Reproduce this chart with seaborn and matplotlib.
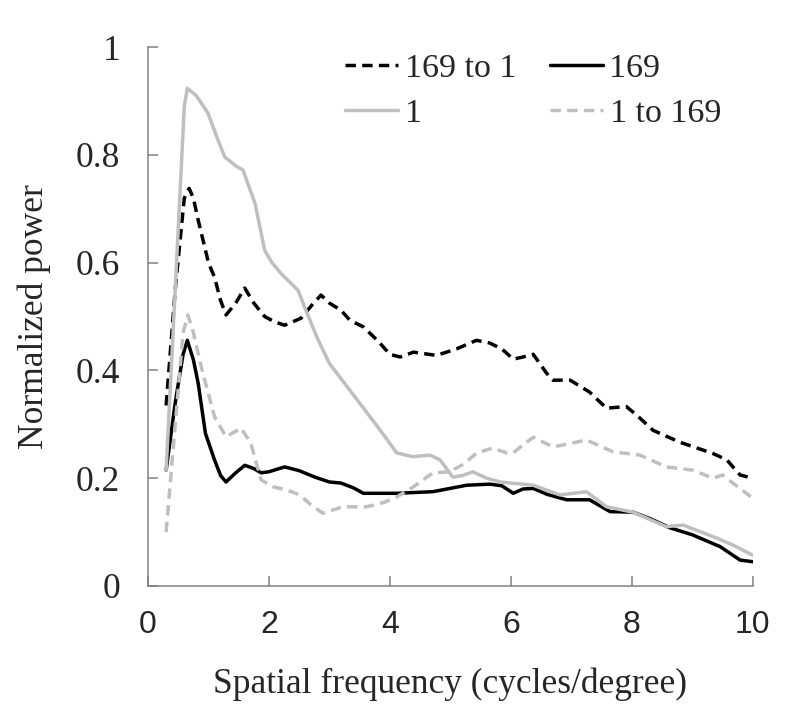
import matplotlib
matplotlib.use("Agg")
import matplotlib.pyplot as plt
import pandas as pd
import seaborn as sns

# values
x_169to1 = [0.3, 0.45, 0.6, 0.68, 0.75, 0.83, 1.0, 1.1, 1.2, 1.29, 1.45, 1.6, 1.75, 1.93, 2.1, 2.26, 2.53, 2.7, 2.86,
            3.0, 3.19, 3.34, 3.56, 3.8, 4.0, 4.17, 4.39, 4.77, 5.1, 5.43, 5.65, 5.85, 6.04, 6.2, 6.37,
            6.59, 6.7, 6.98, 7.3, 7.58, 7.91, 8.1, 8.35, 8.79, 9.34, 9.57, 9.79, 10.0]
y_169to1 = [0.335, 0.55, 0.72, 0.738, 0.72, 0.679, 0.6, 0.573, 0.53, 0.503, 0.525, 0.553, 0.525, 0.5, 0.49, 0.484, 0.497, 0.52, 0.54,
            0.525, 0.512, 0.493, 0.481, 0.455, 0.43, 0.425, 0.434, 0.428, 0.44, 0.456, 0.451, 0.44, 0.421, 0.425, 0.43,
            0.395, 0.382, 0.382, 0.36, 0.33, 0.333, 0.315, 0.289, 0.267, 0.246, 0.234, 0.206, 0.2]

x_169 = [0.3, 0.45, 0.58, 0.65, 0.75, 0.83, 0.95, 1.1, 1.2, 1.29, 1.45, 1.6, 1.75, 1.87, 2.0, 2.26, 2.5, 2.76,
         3.0, 3.19, 3.4, 3.56, 3.72, 4.1, 4.71, 5.27, 5.65, 5.85, 6.04, 6.2, 6.37, 6.6, 6.92, 7.3, 7.64,
         8.02, 8.3, 8.63, 9.0, 9.46, 9.79, 10.0]
y_169 = [0.215, 0.34, 0.43, 0.456, 0.42, 0.376, 0.283, 0.234, 0.205, 0.193, 0.21, 0.224, 0.218, 0.21, 0.212, 0.221, 0.214, 0.202,
         0.193, 0.191, 0.182, 0.172, 0.172, 0.172, 0.175, 0.187, 0.189, 0.186, 0.172, 0.18, 0.181, 0.17, 0.16, 0.16, 0.138,
         0.137, 0.125, 0.108, 0.095, 0.073, 0.048, 0.045]

x_1 = [0.3, 0.45, 0.6, 0.65, 0.8, 0.99, 1.15, 1.27, 1.45, 1.57, 1.77, 1.93, 2.05, 2.2, 2.48, 2.61, 2.8,
       3.0, 3.55, 3.9, 4.11, 4.38, 4.66, 4.83, 5.04, 5.2, 5.37, 5.6, 5.82, 6.37, 6.81, 7.25, 7.58,
       8.02, 8.57, 8.85, 9.4, 9.67, 10.0]
y_1 = [0.215, 0.55, 0.89, 0.924, 0.91, 0.878, 0.83, 0.796, 0.78, 0.772, 0.71, 0.623, 0.6, 0.58, 0.549, 0.512, 0.46,
       0.413, 0.332, 0.28, 0.247, 0.24, 0.243, 0.234, 0.202, 0.205, 0.212, 0.2, 0.193, 0.187, 0.169, 0.175, 0.147,
       0.137, 0.11, 0.113, 0.089, 0.076, 0.057]

x_1to169 = [0.3, 0.45, 0.58, 0.66, 0.75, 0.88, 1.1, 1.29, 1.54, 1.7, 1.87, 2.07, 2.3, 2.51, 2.7, 2.89,
            3.22, 3.62, 3.9, 4.11, 4.4, 4.71, 4.99, 5.2, 5.44, 5.7, 5.93, 6.04, 6.2, 6.37, 6.7, 7.25, 7.69,
            8.13, 8.57, 9.01, 9.34, 9.5, 9.67, 10.0]
y_1to169 = [0.1, 0.3, 0.47, 0.503, 0.47, 0.407, 0.314, 0.277, 0.293, 0.265, 0.197, 0.184, 0.178, 0.169, 0.15, 0.135,
            0.147, 0.147, 0.155, 0.165, 0.185, 0.21, 0.212, 0.225, 0.247, 0.256, 0.247, 0.247, 0.262, 0.276, 0.258, 0.271, 0.249,
            0.243, 0.221, 0.215, 0.2, 0.206, 0.191, 0.163]

labels = ["169 to 1", "169", "1", "1 to 169"]
xs = [x_169to1, x_169, x_1, x_1to169]
ys = [y_169to1, y_169, y_1, y_1to169]

gray = "#bfbfbf"
colors = {"169 to 1": "black", "169": "black", "1": gray, "1 to 169": gray}
dashed = {"169 to 1": True, "169": False, "1": False, "1 to 169": True}

sns.set_style("ticks")
plt.rcParams["font.family"] = ["Liberation Serif", "DejaVu Serif"]

fig = plt.figure(figsize=(8, 7.27), dpi=100)
ax = fig.add_axes([0.185, 0.194, 0.756, 0.741])

lines = {}
for name, xv, yv in zip(labels, xs, ys):
    df = pd.DataFrame({"x": xv, "y": yv})
    sns.lineplot(data=df, x="x", y="y", ax=ax, color=colors[name], lw=2.5,
                 label=name, legend=False, sort=False)
    ln = ax.lines[-1]
    if dashed[name]:
        ln.set_dashes((3.0, 1.8))
    lines[name] = ln

ax.set_xlim(0, 10)
ax.set_ylim(0, 1)
ax.set_xticks([0, 2, 4, 6, 8, 10])
ax.set_yticks([0, 0.2, 0.4, 0.6, 0.8, 1.0])
ax.set_yticklabels(["0", "0.2", "0.4", "0.6", "0.8", "1"], fontsize=25.5)
ax.set_xticklabels(["0", "2", "4", "6", "8", "10"], fontsize=23, family=["Liberation Sans", "DejaVu Sans"])
ax.tick_params(axis="y", direction="in", length=7, width=1.1, color="#808080", pad=20)
ax.tick_params(axis="x", direction="in", length=7, width=1.1, color="#808080", pad=17)
sns.despine(ax=ax)
for s in ["left", "bottom"]:
    ax.spines[s].set_color("#808080")
    ax.spines[s].set_linewidth(1.1)

ax.set_xlabel("Spatial frequency (cycles/degree)", fontsize=25.5, labelpad=20)
ax.set_ylabel("Normalized power", fontsize=25.5, labelpad=18)

order = ["169 to 1", "1", "169", "1 to 169"]
ax.legend([lines[n] for n in order], order, ncol=2, frameon=False, fontsize=24.5,
          loc="upper left", bbox_to_anchor=(345 / 800, 1 - 53 / 727), bbox_transform=fig.transFigure,
          borderaxespad=0, borderpad=0, handlelength=1.55,
          handletextpad=0.2, columnspacing=1.0, labelspacing=0.42)

fig.savefig("out.png", dpi=100)
